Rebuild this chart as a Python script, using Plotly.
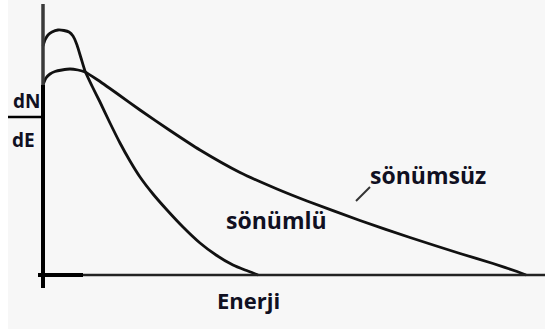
import plotly.graph_objects as go

# Energy spectrum sketch: dN/dE versus energy for damped and undamped cases
# (arbitrary units; origin at E=0, dN/dE=0)
energy_damped = [0.0, 0.4, 1.0, 1.8, 3.0, 4.2, 5.2, 6.0, 6.8, 7.6, 8.4, 9.8, 11.4, 13.4,
                 15.4, 17.4, 19.4, 22.0, 24.8, 28.0, 31.4, 34.6, 38.0, 40.4, 42.0, 43.0]
dnde_damped = [91.6, 94.0, 96.0, 97.2, 98.0, 97.8, 97.2, 95.6, 92.0, 86.8, 81.6, 75.6, 69.2, 60.8,
               52.8, 45.6, 39.2, 32.4, 26.0, 19.2, 12.8, 8.0, 4.0, 2.0, 0.8, 0.0]

energy_undamped = [0.0, 0.6, 1.4, 2.4, 3.8, 5.4, 7.0, 8.4, 10.8, 14.8, 19.4, 25.4, 31.4,
                   39.4, 46.8, 52.8, 63.4, 73.4, 83.4, 90.0, 94.8, 96.6]
dnde_undamped = [76.0, 78.8, 80.4, 81.4, 82.0, 82.4, 82.0, 81.2, 78.2, 72.6, 66.0, 57.8, 50.0,
                 41.0, 34.4, 29.6, 21.8, 15.0, 8.6, 4.6, 1.4, 0.0]

label_damped = "sönümlü"
label_undamped = "sönümsüz"
label_x = "Enerji"
label_num = "dN"
label_den = "dE"

ink = "#111111"
text_ink = "#101022"
font_family = "Open Sans"

fig = go.Figure()
fig.add_trace(go.Scatter(x=energy_damped, y=dnde_damped, mode="lines",
                         line=dict(color=ink, width=2.8, shape="spline", smoothing=0.5),
                         hoverinfo="skip"))
fig.add_trace(go.Scatter(x=energy_undamped, y=dnde_undamped, mode="lines",
                         line=dict(color=ink, width=2.8, shape="spline", smoothing=0.5),
                         hoverinfo="skip"))

shapes = [
    # white strip along the left edge
    dict(type="rect", xref="paper", yref="paper", x0=0, x1=8 / 545, y0=0, y1=1,
         fillcolor="white", line=dict(width=0), layer="below"),
    # vertical axis: lighter upper part, heavy lower part
    dict(type="line", x0=0, x1=0, y0=76, y1=108.4, line=dict(color="#3a3a3a", width=3.5)),
    dict(type="line", x0=0, x1=0, y0=-5.2, y1=76, line=dict(color="black", width=4)),
    # horizontal axis: heavy stub near the origin, thinner beyond
    dict(type="line", x0=-1.0, x1=8.0, y0=0, y1=0, line=dict(color="black", width=4)),
    dict(type="line", x0=8.0, x1=101, y0=0, y1=0, line=dict(color="#222222", width=2.5)),
    # fraction bar of dN/dE
    dict(type="line", x0=-7.0, x1=0, y0=63.2, y1=63.2, line=dict(color="black", width=2.5)),
    # leader tick next to the undamped label
    dict(type="line", x0=62.6, x1=65.4, y0=29.6, y1=35.2, line=dict(color="#333333", width=2)),
]

annotations = [
    dict(x=-3.4, y=69.6, text=f"<b>{label_num}</b>", showarrow=False,
         font=dict(family=font_family, size=19, color=text_ink)),
    dict(x=-4.0, y=54.0, text=f"<b>{label_den}</b>", showarrow=False,
         font=dict(family=font_family, size=19, color=text_ink)),
    dict(x=46.6, y=22.0, text=f"<b>{label_damped}</b>", showarrow=False,
         font=dict(family=font_family, size=23, color=text_ink)),
    dict(x=77.0, y=40.0, text=f"<b>{label_undamped}</b>", showarrow=False,
         font=dict(family=font_family, size=23, color=text_ink)),
    dict(x=41.0, y=-10.0, text=f"<b>{label_x}</b>", showarrow=False,
         font=dict(family=font_family, size=22, color=text_ink)),
]

fig.update_layout(
    width=545, height=329,
    margin=dict(l=0, r=0, t=0, b=0),
    paper_bgcolor="#f7f7f7", plot_bgcolor="#f7f7f7",
    showlegend=False,
    xaxis=dict(range=[-8.6, 100.4], visible=False, fixedrange=True),
    yaxis=dict(range=[-21.6, 110.0], visible=False, fixedrange=True),
    shapes=shapes,
    annotations=annotations,
)

fig.write_html("out.html", config={"displayModeBar": False})
